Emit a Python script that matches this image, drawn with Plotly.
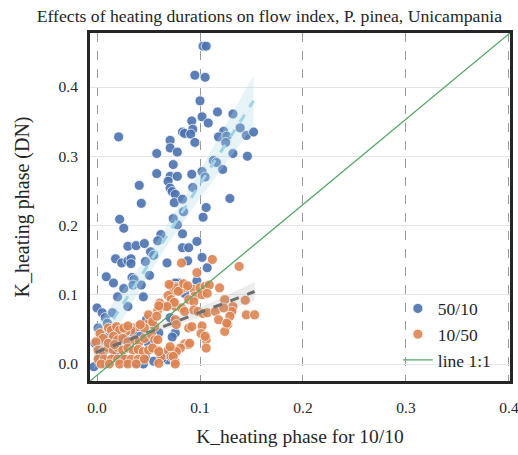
import numpy as np
import plotly.graph_objects as go

# ---- data ----
x_50_10 = [0.103,0.106,0.095,0.105,0.100,0.117,0.132,0.102,0.092,0.108,0.093,0.083,0.085,0.091,
           0.139,0.123,0.118,0.126,0.145,0.152,0.095,0.125,0.021,0.071,0.071,0.078,0.058,0.074,
           0.058,0.071,0.078,0.069,0.092,0.102,0.105,0.113,0.116,0.122,0.132,0.146,0.041,0.071,
           0.073,0.076,0.093,0.043,0.075,0.083,0.129,0.106,0.084,0.103,0.078,0.083,0.097,0.083,
           0.089,0.102,0.088,0.022,0.026,0.074,0.062,0.059,0.052,0.055,0.030,0.038,0.046,0.018,
           0.024,0.030,0.033,0.033,0.047,0.068,0.107,0.009,0.016,0.026,0.034,0.036,0.035,0.051,
           0.045,0.030,0.020,0.079,0.097,0.000,0.005,0.008,0.015,0.001,0.010,0.015,0.035,0.035,
           0.076,0.073,0.071,0.043,0.048,0.052,0.040,0.069,0.022,0.003,0.013,0.027,0.076,0.078,
           0.085,0.002,0.010,0.018,0.028,0.039,0.047,0.055,0.063,0.068,0.005,0.042,0.032,0.050,
           0.012,0.060,-0.002,-0.003,0.008,0.025,0.045]
y_50_10 = [0.459,0.459,0.417,0.414,0.380,0.364,0.361,0.357,0.351,0.348,0.339,0.335,0.333,0.332,
           0.341,0.336,0.328,0.329,0.330,0.335,0.320,0.320,0.328,0.323,0.312,0.306,0.304,0.288,
           0.275,0.271,0.271,0.264,0.274,0.278,0.270,0.294,0.291,0.281,0.304,0.300,0.258,0.254,
           0.249,0.245,0.255,0.232,0.233,0.238,0.239,0.226,0.220,0.212,0.201,0.188,0.177,0.168,
           0.168,0.154,0.149,0.209,0.196,0.210,0.187,0.178,0.162,0.157,0.170,0.171,0.174,0.152,
           0.146,0.149,0.152,0.145,0.148,0.146,0.139,0.126,0.117,0.109,0.125,0.122,0.114,0.128,
           0.097,0.083,0.097,0.117,0.120,0.081,0.074,0.067,0.074,0.052,0.059,0.051,0.052,0.046,
           0.045,0.039,0.067,0.114,0.064,0.059,0.003,0.006,0.013,0.020,0.028,0.035,0.117,0.112,
           0.102,0.010,0.005,0.012,0.003,0.001,0.010,0.004,0.008,0.014,0.035,0.040,0.025,0.030,
           0.040,0.045,0.030,-0.004,0.000,0.008,0.000]

x_10_50 = [0.082,0.112,0.138,0.097,0.076,0.085,0.094,0.100,0.105,0.109,0.119,0.095,0.102,0.107,
           0.089,0.094,0.124,0.144,0.076,0.082,0.085,0.094,0.098,0.103,0.107,0.132,0.131,0.115,
           0.145,0.153,0.129,0.118,0.127,0.124,0.076,0.077,0.089,0.092,0.102,0.101,0.106,0.106,
           0.085,0.089,0.076,0.081,0.076,0.072,0.074,0.069,0.077,0.061,0.059,0.066,0.072,0.075,
           0.051,0.056,0.040,0.046,0.033,0.028,0.003,0.006,-0.001,0.011,0.014,0.019,0.022,0.016,
           0.020,0.025,0.030,0.037,0.041,0.046,0.053,0.056,0.059,0.059,0.062,0.069,0.072,0.077,
           0.001,0.006,0.011,0.016,0.020,0.025,0.030,0.035,0.040,0.045,0.050,0.054,0.001,0.007,
           0.014,0.020,0.027,0.033,0.040,0.046,0.004,0.012,0.022,0.030,0.038,0.011,0.017,0.050,
           0.054,0.068,0.060,0.058,0.042,0.026,0.030,0.060,0.060,0.071,0.074,0.076,0.090,0.123,
           0.126,0.105,0.081,0.070,0.079,0.084,0.088]
y_10_50 = [0.146,0.151,0.141,0.132,0.112,0.110,0.108,0.110,0.112,0.114,0.110,0.098,0.100,0.102,
           0.093,0.090,0.093,0.092,0.083,0.081,0.076,0.078,0.076,0.073,0.074,0.083,0.076,0.076,
           0.071,0.071,0.069,0.064,0.057,0.047,0.064,0.057,0.052,0.054,0.055,0.044,0.035,0.023,
           0.029,0.028,0.020,0.023,0.003,0.112,0.105,0.099,0.110,0.088,0.078,0.083,0.093,0.089,
           0.061,0.054,0.054,0.052,0.049,0.047,0.044,0.037,0.032,0.052,0.049,0.054,0.049,0.040,
           0.035,0.037,0.032,0.035,0.032,0.037,0.042,0.035,0.035,0.020,0.011,0.020,0.011,0.018,
           0.020,0.018,0.023,0.020,0.024,0.020,0.023,0.020,0.021,0.018,0.020,0.023,0.007,0.007,
           0.007,0.007,0.007,0.007,0.007,0.007,0.000,0.000,0.000,0.000,0.000,0.030,0.028,0.071,
           0.061,0.083,0.084,0.069,0.057,0.052,0.055,0.018,0.001,0.025,0.011,0.000,0.030,0.081,
           0.059,0.040,0.107,0.115,0.105,0.116,0.113]

x_ticks = [0.0, 0.1, 0.2, 0.3, 0.4]
y_ticks = [0.0, 0.1, 0.2, 0.3, 0.4]
x_range = [-0.0068, 0.401]
y_range = [-0.0245, 0.478]

title_text = "Effects of heating durations on flow index, P. pinea, Unicampania"
x_title = "K_heating phase for 10/10"
y_title = "K_heating phase (DN)"

BLUE = "#4C72B0"
ORANGE = "#DD8452"
GREEN = "#55A868"
FONT = "Palatino, 'Palatino Linotype', 'Book Antiqua', 'Liberation Serif', 'DejaVu Serif', serif"


def ols_band(x, y, n=60):
    x = np.asarray(x, float)
    y = np.asarray(y, float)
    b, a = np.polyfit(x, y, 1)
    xs = np.linspace(x.min(), x.max(), n)
    yh = a + b * xs
    resid = y - (a + b * x)
    s = np.sqrt(np.sum(resid ** 2) / (len(x) - 2))
    se = s * np.sqrt(1 / len(x) + (xs - x.mean()) ** 2 / np.sum((x - x.mean()) ** 2))
    return xs, yh, yh - 1.97 * se, yh + 1.97 * se


fig = go.Figure()


def add_series(x, y, color, name, line_color, band_color):
    fig.add_trace(go.Scatter(
        x=x, y=y, mode="markers", name=name,
        marker=dict(color=color, size=10, opacity=0.9, line=dict(color="white", width=0.8)),
    ))
    xs, yh, lo, hi = ols_band(x, y)
    fig.add_trace(go.Scatter(x=np.concatenate([xs, xs[::-1]]), y=np.concatenate([hi, lo[::-1]]),
                             fill="toself", fillcolor=band_color, line=dict(width=0),
                             mode="lines", showlegend=False, hoverinfo="skip"))
    fig.add_trace(go.Scatter(x=xs, y=yh, mode="lines", showlegend=False,
                             line=dict(color=line_color, width=3, dash="dash")))


add_series(x_50_10, y_50_10, BLUE, "50/10", "#9fd3e6", "rgba(173,216,230,0.3)")
add_series(x_10_50, y_10_50, ORANGE, "10/50", "#6e6e6e", "rgba(150,150,150,0.18)")

fig.add_trace(go.Scatter(x=[x_range[0], x_range[1]], y=[y_range[0], y_range[1]], mode="lines",
                         name="line 1:1", line=dict(color=GREEN, width=1.3)))

fig.update_layout(
    width=518, height=455,
    margin=dict(l=90, r=8, t=33, b=74),
    paper_bgcolor="white", plot_bgcolor="white",
    hovermode=False,
    font=dict(family=FONT, color="#262626", size=15),
    title=dict(text=title_text, x=0.52, xref="container", xanchor="center",
               y=0.966, yref="container", yanchor="middle",
               font=dict(size=17.7, color="#262626")),
    legend=dict(x=0.733, y=0.26, xanchor="left", yanchor="top", bgcolor="rgba(0,0,0,0)",
                font=dict(size=17.5), itemwidth=30, tracegroupgap=2),
    showlegend=True,
)
fig.update_xaxes(range=x_range, tickvals=x_ticks, ticktext=[f"{v:.1f}" for v in x_ticks],
                 showgrid=True, gridcolor="#9a9a9a", griddash="dash", gridwidth=1,
                 zeroline=False, showline=True, mirror=True, linecolor="#262626", linewidth=3,
                 ticks="", ticklabelstandoff=10, tickfont=dict(size=15.5), automargin=False,
                 ticklabeloverflow="allow",
                 title=dict(text=x_title, font=dict(size=19.5), standoff=15))
fig.update_yaxes(range=y_range, tickvals=y_ticks, ticktext=[f"{v:.1f}" for v in y_ticks],
                 showgrid=True, gridcolor="#e6e6e6", gridwidth=1,
                 zeroline=False, showline=True, mirror=True, linecolor="#262626", linewidth=3,
                 ticks="", ticklabelstandoff=6, tickfont=dict(size=15.5), automargin=False,
                 title=dict(text=y_title, font=dict(size=20), standoff=24))

# remove the default page margin so the 518x455 figure fills the window exactly
fig.write_html("out.html",
               config={"displayModeBar": False},
               post_script="document.body.style.margin='0';document.body.style.overflow='hidden';")
